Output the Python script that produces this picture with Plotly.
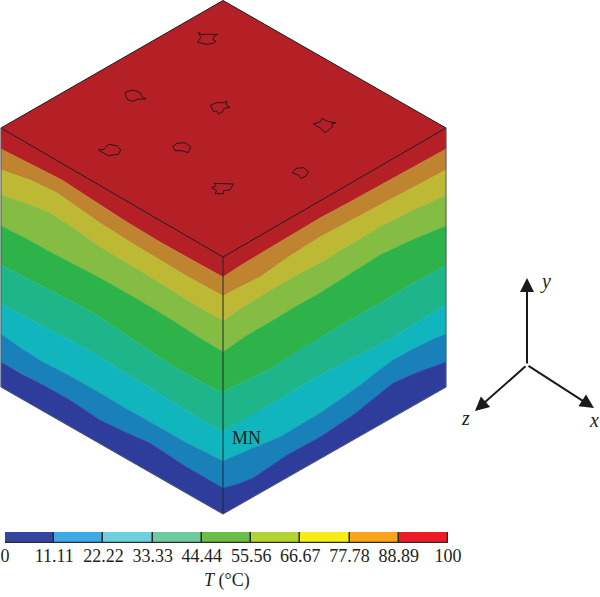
import plotly.graph_objects as go

# --- cube outline (diagram units) ---
top_face_x = [223, 446, 223, 1]
top_face_y = [0.5, 128, 257, 128]
centre_edge_x = [223, 223]
centre_edge_y = [257, 514]

# --- isotherm bands, ordered from the top of the block downward ---
band_colors = ["#B51F26", "#BF8430", "#BDB935", "#84BC44", "#2DB34A",
               "#1FB58A", "#11B5BD", "#1A80BA", "#2E3D9C"]

left_top = [(1, 128), (223, 257)]
left_bottom = [(1, 387), (223, 514)]
left_iso = [
    [(1, 149), (30, 164), (62, 180), (82, 193), (100, 205), (130, 224), (160, 242), (190, 259), (223, 277)],
    [(1, 170), (30, 180), (57, 193), (78, 208), (100, 223), (130, 242), (160, 260), (190, 278), (223, 296)],
    [(1, 195), (25, 203), (50, 213), (75, 229), (100, 247), (130, 265), (160, 283), (190, 302), (223, 321)],
    [(1, 226), (25, 238), (50, 252), (75, 265), (100, 278), (135, 298), (167, 317), (195, 335), (223, 352)],
    [(1, 265), (25, 277), (50, 290), (75, 303), (100, 317), (135, 341), (173, 366), (198, 380), (223, 393)],
    [(1, 304), (25, 317), (50, 330), (75, 343), (100, 357), (125, 373), (150, 388), (185, 410), (223, 432)],
    [(1, 334), (22, 349), (43, 362), (70, 376), (100, 393), (125, 408), (150, 422), (185, 442), (223, 461)],
    [(1, 362), (22, 374), (43, 385), (70, 400), (100, 420), (125, 432), (150, 443), (185, 466), (223, 488)],
]

right_top = [(223, 257), (446, 128)]
right_bottom = [(223, 514), (446, 387)]
right_iso = [
    [(223, 277), (243, 264), (263, 252), (290, 236), (320, 218), (348, 203), (377, 187), (410, 169), (446, 149)],
    [(223, 296), (240, 287), (260, 277), (290, 256), (320, 237), (350, 221), (380, 205), (412, 188), (446, 170)],
    [(223, 321), (243, 307), (263, 295), (290, 279), (320, 263), (350, 245), (380, 227), (412, 211), (446, 195)],
    [(223, 352), (246, 336), (270, 322), (295, 307), (320, 293), (350, 274), (380, 255), (412, 240), (446, 226)],
    [(223, 392), (245, 381), (268, 370), (295, 353), (320, 338), (350, 320), (380, 303), (412, 284), (446, 265)],
    [(223, 431), (247, 418), (270, 405), (293, 391), (317, 377), (343, 363), (387, 341), (415, 324), (446, 305)],
    [(223, 461), (250, 450), (280, 437), (300, 425), (320, 413), (342, 398), (363, 383), (378, 371), (393, 360), (413, 349), (433, 339), (446, 334)],
    [(223, 488), (238, 484), (253, 478), (287, 455), (320, 437), (353, 415), (373, 399), (393, 383), (418, 372), (446, 362)],
]

pores_3x = [
    [(595, 97), (606, 104), (620, 103), (652, 103), (640, 112), (640, 120), (648, 124), (640, 130), (620, 133), (592, 126), (603, 112)],
    [(378, 275), (400, 270), (420, 278), (425, 290), (437, 297), (415, 297), (398, 304), (382, 298), (376, 285)],
    [(632, 315), (650, 308), (672, 308), (680, 303), (678, 314), (690, 322), (672, 325), (668, 335), (655, 342), (650, 332), (640, 335)],
    [(940, 372), (962, 365), (965, 355), (985, 365), (1008, 368), (995, 372), (998, 380), (975, 398), (962, 385)],
    [(295, 450), (312, 448), (325, 433), (350, 437), (362, 450), (355, 463), (325, 467), (310, 458)],
    [(518, 440), (530, 430), (555, 428), (572, 440), (565, 458), (545, 452), (525, 452)],
    [(635, 563), (648, 558), (642, 550), (700, 552), (690, 570), (670, 572), (670, 582), (645, 580), (650, 572)],
    [(877, 518), (888, 505), (910, 503), (925, 515), (918, 528), (903, 535), (895, 525)],
]

# --- colour bar ---
T_ticks = [0, 11.11, 22.22, 33.33, 44.44, 55.56, 66.67, 77.78, 88.89, 100]
T_labels = ["0", "11.11", "22.22", "33.33", "44.44", "55.56", "66.67", "77.78", "88.89", "100"]
bar_colors = ["#35469F", "#3FA9E3", "#6ECFE0", "#6FCB9F", "#6ABD45",
              "#B3D334", "#F8EC17", "#F9A51B", "#ED1C24"]

SERIF = "Liberation Serif"
fig = go.Figure()


def poly(points, color):
    xs = [p[0] for p in points] + [points[0][0]]
    ys = [p[1] for p in points] + [points[0][1]]
    fig.add_trace(go.Scatter(x=xs, y=ys, mode="lines", fill="toself", fillcolor=color,
                             line=dict(color=color, width=0.5), hoverinfo="skip", showlegend=False))


def face(top, iso, bottom):
    bounds = [top] + iso + [bottom]
    for upper, lower, col in zip(bounds[:-1], bounds[1:], band_colors):
        poly(list(upper) + list(reversed(lower)), col)


face(left_top, left_iso, left_bottom)
face(right_top, right_iso, right_bottom)

# top face
fig.add_trace(go.Scatter(x=top_face_x + top_face_x[:1], y=top_face_y + top_face_y[:1], mode="lines",
                         fill="toself", fillcolor=band_colors[0], line=dict(color="#1c1c1c", width=1),
                         hoverinfo="skip", showlegend=False))
# edges
fig.add_trace(go.Scatter(x=centre_edge_x, y=centre_edge_y, mode="lines",
                         line=dict(color="#1c2a30", width=1), hoverinfo="skip", showlegend=False))
fig.add_trace(go.Scatter(x=[1, 1, 223, 446, 446], y=[128, 387, 514, 387, 128], mode="lines",
                         line=dict(color="#555a66", width=1), hoverinfo="skip", showlegend=False))
# pores
for pore in pores_3x:
    closed = pore + pore[:1]
    fig.add_trace(go.Scatter(x=[p[0] / 3 for p in closed], y=[p[1] / 3 for p in closed], mode="lines",
                             line=dict(color="#1a1416", width=0.9), hoverinfo="skip", showlegend=False))

# colour bar: stacked bar on its own axes
for lo, hi, col in zip(T_ticks[:-1], T_ticks[1:], bar_colors):
    fig.add_trace(go.Bar(x=[hi - lo], y=[0], base=[lo], orientation="h", xaxis="x2", yaxis="y2",
                         marker=dict(color=col, line=dict(color="#2a2a2a", width=1.3)),
                         hoverinfo="skip", showlegend=False))

annotations = [
    dict(x=246, y=438, text="MN", font=dict(size=18)),
    dict(x=227, y=580, text="<i>T</i> (°C)", font=dict(size=18)),
    dict(x=545, y=281, text="<i>y</i>", font=dict(size=20)),
    dict(x=465, y=418, text="<i>z</i>", font=dict(size=20)),
    dict(x=594, y=420, text="<i>x</i>", font=dict(size=20)),
]
for a in annotations:
    a.update(xref="x", yref="y", showarrow=False)
    a["font"].update(family=SERIF, color="#231f20")
# triad arrows
for tip in [(527, 278), (475, 411), (594, 408)]:
    annotations.append(dict(x=tip[0], y=tip[1], ax=527, ay=365, xref="x", yref="y", axref="x", ayref="y",
                            text="", showarrow=True, arrowhead=2, arrowsize=1.4, arrowwidth=2,
                            arrowcolor="#1a1a1a"))

fig.update_layout(
    width=600, height=597, margin=dict(l=0, r=0, t=0, b=0, autoexpand=False),
    paper_bgcolor="white", plot_bgcolor="rgba(0,0,0,0)",
    bargap=0, barmode="overlay", showlegend=False,
    xaxis=dict(domain=[0, 1], range=[0, 600], visible=False),
    yaxis=dict(domain=[0, 1], range=[597, 0], visible=False),
    xaxis2=dict(domain=[5 / 600, 448 / 600], range=[0, 100], anchor="y2", tickvals=T_ticks, ticktext=T_labels,
                ticks="", ticklabelstandoff=0, showgrid=False, zeroline=False, automargin=False,
                showline=False, tickangle=0, tickfont=dict(family=SERIF, size=18, color="#231f20")),
    yaxis2=dict(domain=[(597 - 543) / 597, (597 - 532) / 597], range=[-0.5, 0.5], anchor="x2", visible=False),
    annotations=annotations,
)
fig.write_html("out.html", config=dict(displayModeBar=False),
               post_script="document.body.style.margin='0';document.documentElement.style.overflow='hidden';")
